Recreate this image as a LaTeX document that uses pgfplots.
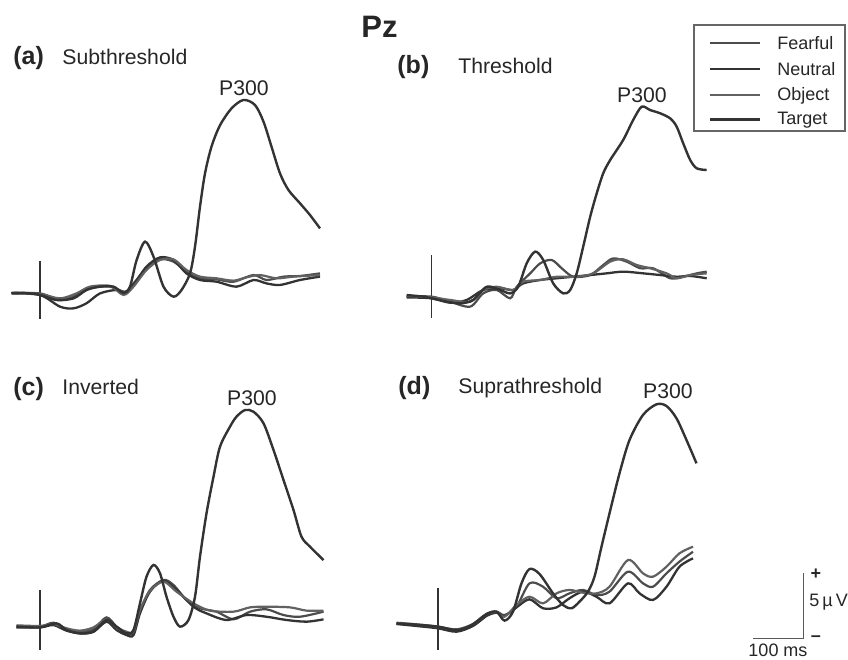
\documentclass[border=0pt]{standalone}
\usepackage{fontspec}
\setmainfont{Liberation Sans}
\usepackage{pgfplots}
\pgfplotsset{compat=1.18}
\definecolor{txt}{gray}{0.15}
\pgfplotsset{
  erp/.style={hide axis, scale only axis, width=175pt, height=136.5pt,
    xmin=-100, xmax=600, ymin=-3, ymax=18, clip=false, anchor=south west},
}
\tikzset{
  fearful/.style={color=black!70, line width=1.1pt, smooth, mark=none},
  neutral/.style={color=black!80, line width=1.15pt, smooth, mark=none},
  object/.style={color=black!62, line width=1.1pt, smooth, mark=none},
  target/.style={color=black!80, line width=1.2pt, smooth, mark=none},
  onset/.style={color=black!80, line width=0.7pt},
}
\begin{document}
\begin{tikzpicture}
% ---------------- (a) Subthreshold
\begin{axis}[erp, at={(-5pt,-166pt)}]
\draw[onset] (axis cs:0,2.5) -- (axis cs:0,-2.0);
\addplot[fearful] coordinates {(-57,-0.03) (0,-0.03) (40,-0.54) (67,-0.28) (100,0.36) (140,0.49) (170,0.10) (187,0.74) (213,1.9) (240,2.59) (267,2.41) (293,1.64) (320,1.13) (353,1.05) (387,0.87) (427,1.38) (453,1.0) (487,1.26) (520,1.31) (560,1.51)};
\addplot[neutral] coordinates {(-57,-0.03) (0,-0.15) (40,-1.05) (67,-1.18) (93,-0.79) (120,-0.03) (153,0.23) (170,-0.03) (187,0.62) (213,2.03) (240,2.74) (267,2.54) (293,1.51) (320,1.0) (353,0.87) (393,0.49) (427,1.0) (453,0.74) (480,0.62) (520,1.0) (560,1.26)};
\addplot[object] coordinates {(-57,0.03) (0,-0.08) (40,-0.41) (73,-0.03) (100,0.49) (140,0.54) (167,-0.15) (187,0.49) (213,1.77) (240,2.54) (267,2.59) (293,1.77) (320,1.26) (353,1.13) (387,0.95) (413,1.21) (440,1.38) (473,1.13) (507,1.26) (560,1.38)};
\addplot[target] coordinates {(-57,0) (-27,0) (0,-0.15) (33,-0.54) (67,-0.41) (93,0.23) (120,0.49) (147,0.49) (167,0) (180,0.49) (193,2.5) (210,3.95) (227,2.8) (247,0.49) (267,-0.28) (283,0.23) (300,1.51) (310,3.56) (320,6.64) (330,9.2) (343,11.26) (360,12.9) (383,14.2) (407,14.85) (430,14.46) (447,13.18) (463,11.26) (480,9.2) (497,7.92) (520,6.9) (540,6.0) (560,4.97)};
\end{axis}
% ---------------- (b) Threshold
\begin{axis}[erp, at={(190.85pt,-168pt)}]
\draw[onset] (axis cs:0,3.2) -- (axis cs:0,-1.6);
\addplot[fearful] coordinates {(-50,0.03) (0,0.03) (37,-0.36) (77,-0.74) (103,0.28) (130,0.54) (157,-0.10) (170,0.79) (197,1.82) (217,2.59) (240,2.85) (260,2.21) (283,1.56) (317,1.69) (343,2.46) (363,2.97) (390,2.72) (417,2.21) (443,2.21) (477,1.44) (503,1.56) (530,1.82) (550,1.95)};
\addplot[neutral] coordinates {(-50,-0.03) (0,-0.10) (37,-0.44) (70,-0.23) (103,0.54) (137,0.67) (163,0.54) (183,1.05) (217,1.31) (250,1.44) (283,1.56) (317,1.69) (350,1.82) (383,1.95) (423,1.82) (457,1.69) (490,1.56) (517,1.62) (550,1.44)};
\addplot[object] coordinates {(-50,0.08) (0,-0.03) (37,-0.23) (77,-0.36) (103,0.54) (130,0.79) (163,0.54) (183,1.18) (217,1.31) (250,1.56) (290,1.56) (323,1.82) (357,2.72) (383,2.90) (410,2.46) (437,2.21) (470,1.82) (490,1.44) (517,1.69) (550,1.82)};
\addplot[target] coordinates {(-50,0.15) (-17,0.03) (0,-0.10) (30,-0.36) (57,-0.49) (83,-0.23) (110,0.79) (137,0.54) (157,0.28) (173,0.79) (190,2.59) (207,3.49) (223,2.85) (243,1.05) (263,0.28) (277,0.54) (290,1.82) (303,3.87) (317,6.18) (330,7.97) (343,9.51) (357,10.54) (383,12.08) (403,13.62) (420,14.64) (437,14.38) (457,14.13) (477,13.74) (490,13.10) (503,11.82) (517,10.54) (530,9.90) (550,9.77)};
\end{axis}
% ---------------- (c) Inverted
\begin{axis}[erp, at={(-5pt,-333pt)}]
\draw[onset] (axis cs:0,2.85) -- (axis cs:0,-1.8);
\addplot[fearful] coordinates {(-47,0.08) (0,0.03) (27,0.33) (53,-0.18) (80,-0.36) (107,-0.18) (133,0.74) (153,0.03) (173,-0.44) (187,-0.49) (200,1.18) (220,2.85) (247,3.62) (267,3.23) (293,2.08) (320,1.44) (353,1.18) (387,0.59) (420,1.18) (453,1.36) (487,0.92) (520,0.79) (567,1.18)};
\addplot[neutral] coordinates {(-47,-0.03) (0,-0.03) (27,0.15) (53,-0.28) (80,-0.49) (107,-0.36) (133,0.41) (153,-0.23) (173,-0.62) (187,-0.62) (200,1.05) (220,2.72) (247,3.56) (273,2.85) (307,1.56) (333,1.05) (373,0.54) (413,0.92) (453,0.79) (493,0.54) (533,0.41) (567,0.59)};
\addplot[object] coordinates {(-47,0.13) (0,0.08) (27,0.23) (53,-0.10) (80,-0.28) (107,-0.03) (133,0.59) (153,-0.03) (173,-0.36) (187,-0.36) (200,1.31) (220,2.79) (247,3.49) (273,2.72) (307,1.82) (340,1.26) (387,1.18) (420,1.51) (453,1.56) (500,1.51) (533,1.26) (567,1.26)};
\addplot[target] coordinates {(-47,0.03) (0,-0.03) (33,0.28) (53,-0.23) (80,-0.49) (107,-0.36) (133,0.54) (153,0.03) (173,-0.49) (187,-0.23) (200,1.82) (213,3.87) (227,4.77) (240,4.13) (253,2.33) (267,0.79) (280,0.03) (297,0.54) (310,2.33) (320,5.41) (333,8.74) (347,11.56) (360,13.87) (380,15.41) (393,16.18) (410,16.69) (427,16.56) (447,15.67) (467,13.62) (487,11.31) (507,9.0) (523,6.95) (540,6.18) (567,5.15)};
\end{axis}
% ---------------- (d) Suprathreshold
\begin{axis}[erp, at={(194pt,-333pt)}]
\draw[onset] (axis cs:0,3.0) -- (axis cs:0,-1.8);
\addplot[fearful] coordinates {(-83,0.28) (-43,0.15) (0,-0.03) (37,-0.28) (70,0.15) (97,0.92) (117,1.18) (133,0.92) (157,1.56) (183,3.36) (210,3.10) (237,2.21) (263,2.59) (290,2.85) (317,2.46) (343,2.72) (380,4.26) (410,3.36) (430,3.10) (457,4.13) (483,5.03) (510,5.79)};
\addplot[neutral] coordinates {(-83,0.23) (-43,0.08) (0,-0.10) (37,-0.36) (70,0.08) (97,0.85) (117,1.10) (133,0.85) (157,1.51) (183,2.13) (210,1.44) (237,1.51) (263,2.21) (290,2.72) (317,2.33) (343,1.82) (380,3.36) (403,2.59) (430,2.08) (457,3.10) (483,4.64) (510,5.28)};
\addplot[object] coordinates {(-83,0.33) (-43,0.21) (0,0.03) (37,-0.18) (70,0.23) (97,1.0) (117,1.15) (133,0.79) (157,1.69) (183,2.33) (210,1.82) (237,2.59) (263,2.85) (290,2.64) (317,2.59) (343,3.10) (380,5.15) (410,4.13) (430,3.87) (457,4.64) (483,5.67) (510,6.18)};
\addplot[target] coordinates {(-83,0.28) (-43,0.18) (0,0.03) (37,-0.23) (67,0.15) (97,1.0) (117,1.18) (133,0.49) (150,1.18) (167,3.36) (183,4.46) (203,4.08) (230,2.59) (250,1.69) (267,1.44) (283,1.95) (300,2.72) (313,3.87) (327,6.18) (343,8.74) (363,11.82) (383,14.38) (410,16.31) (437,17.13) (457,17.0) (477,16.05) (497,14.38) (517,12.59)};
% scale bar: 100 ms, 5 uV
\draw[black!65, line width=0.5pt] (axis cs:630,-0.85) -- (axis cs:730,-0.85) -- (axis cs:730,4.15);
\end{axis}
% ---------------- texts (pixel coordinates)
\begin{scope}[x=0.5pt, y=-0.5pt, every node/.style={inner sep=0pt, text=txt}]
\node[anchor=base, font=\fontsize{15.5}{16}\selectfont\bfseries] at (379.5,37) {Pz};
\node[anchor=base west, font=\fontsize{12.5}{14}\selectfont\bfseries] at (13,64) {(a)};
\node[anchor=base west, font=\fontsize{10.6}{12}\selectfont] at (62,64) {Subthreshold};
\node[anchor=base west, font=\fontsize{12.5}{14}\selectfont\bfseries] at (397,73) {(b)};
\node[anchor=base west, font=\fontsize{10.6}{12}\selectfont] at (458,73) {Threshold};
\node[anchor=base west, font=\fontsize{12.5}{14}\selectfont\bfseries] at (13,395) {(c)};
\node[anchor=base west, font=\fontsize{10.6}{12}\selectfont] at (62,394) {Inverted};
\node[anchor=base west, font=\fontsize{12.5}{14}\selectfont\bfseries] at (398,394) {(d)};
\node[anchor=base west, font=\fontsize{10.6}{12}\selectfont] at (458,393) {Suprathreshold};
\node[anchor=base, font=\fontsize{10.6}{12}\selectfont] at (244,95) {P300};
\node[anchor=base, font=\fontsize{10.6}{12}\selectfont] at (642,102) {P300};
\node[anchor=base, font=\fontsize{10.6}{12}\selectfont] at (252,405) {P300};
\node[anchor=base, font=\fontsize{10.6}{12}\selectfont] at (668,398) {P300};
% legend
\draw[black!60, line width=0.6pt] (694,25) rectangle (845,131);
\draw[fearful] (710,43) -- (760,43);
\draw[neutral] (710,69) -- (760,69);
\draw[object] (710,95) -- (760,95);
\draw[target] (710,119.5) -- (760,119.5);
\node[anchor=base west, font=\fontsize{9}{10}\selectfont] at (777,49) {Fearful};
\node[anchor=base west, font=\fontsize{9}{10}\selectfont] at (777,75) {Neutral};
\node[anchor=base west, font=\fontsize{9}{10}\selectfont] at (777,100.5) {Object};
\node[anchor=base west, font=\fontsize{9}{10}\selectfont] at (777,124.5) {Target};
% scale bar labels
\node[font=\fontsize{9}{10}\selectfont\bfseries] at (816,574) {+};
\node[font=\fontsize{9}{10}\selectfont\bfseries] at (816,639) {–};
\node[anchor=west, font=\fontsize{9}{10}\selectfont] at (809,602) {5\,µ\,V};
\node[font=\fontsize{9}{10}\selectfont] at (778,650) {100 ms};
\end{scope}
\pgfresetboundingbox
\path[use as bounding box] (0,0) rectangle (424pt,-330pt);
\end{tikzpicture}
\end{document}
